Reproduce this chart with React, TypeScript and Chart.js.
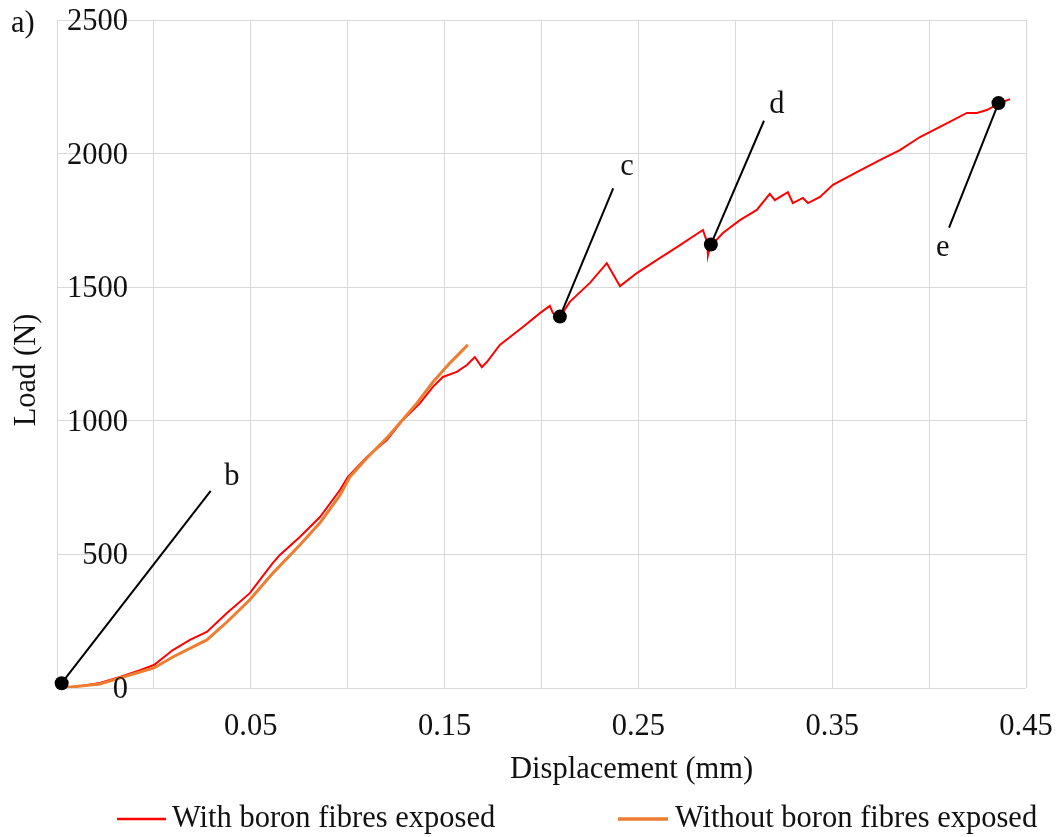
import React, { useEffect, useRef } from "react";
import { Chart, registerables } from "chart.js";

Chart.register(...registerables);

// ---- Data ----
const withBoronX = [
  -0.0475, -0.0382, -0.0279, -0.0175, -0.0072, 0.0, 0.0098, 0.0186, 0.0273, 0.0377,
  0.0495, 0.0614, 0.065, 0.0753, 0.0857, 0.096, 0.1001, 0.1099, 0.1202, 0.1285,
  0.1373, 0.144, 0.1491, 0.1563, 0.1615, 0.1656, 0.1692, 0.1718, 0.1785, 0.1904,
  0.1992, 0.2043, 0.2059, 0.2095, 0.2146, 0.225, 0.2337, 0.2405, 0.2492, 0.2596,
  0.2699, 0.2833, 0.2854, 0.2859, 0.2869, 0.2936, 0.3024, 0.3111, 0.3178, 0.3204,
  0.3271, 0.3297, 0.3349, 0.3375, 0.3437, 0.3504, 0.3627, 0.3746, 0.3849, 0.3953,
  0.4056, 0.4195, 0.4247, 0.4298, 0.4365, 0.4417,
];
const withBoronLoad = [
  0, 7, 19, 41, 67, 86, 142, 180, 210, 281,
  355, 468, 498, 565, 640, 741, 790, 865, 928, 1003,
  1066, 1127, 1164, 1183, 1209, 1239, 1201, 1220, 1284, 1351,
  1403, 1430, 1403, 1388, 1445, 1516, 1590, 1504, 1553, 1602,
  1650, 1714, 1669, 1620, 1650, 1703, 1751, 1789, 1849, 1826,
  1856, 1815, 1834, 1815, 1838, 1883, 1931, 1976, 2013, 2062,
  2100, 2152, 2152, 2163, 2189, 2204,
];

const withoutBoronX = [
  -0.0475, -0.0279, -0.0072, 0.0, 0.0098, 0.0273, 0.0377, 0.0495, 0.0614, 0.0753,
  0.0857, 0.096, 0.1011, 0.1099, 0.1202, 0.1269, 0.1357, 0.144, 0.1527, 0.162,
];
const withoutBoronLoad = [
  0, 15, 60, 75, 116, 180, 247, 330, 430, 535,
  618, 722, 790, 861, 936, 992, 1066, 1145, 1216, 1284,
];

const seriesLabels = ["With boron fibres exposed", "Without boron fibres exposed"];
const seriesColors = ["#FF0000", "#ED7D31"];

const xTickLabels = [0.05, 0.15, 0.25, 0.35, 0.45];
const yTickLabels = [0, 500, 1000, 1500, 2000, 2500];

const xTitle = "Displacement (mm)";
const yTitle = "Load (N)";
const panelLabel = "a)";

// annotation markers, leader line ends and letter positions
const markerNames = ["b", "c", "d", "e"];
const markerX = [-0.0476, 0.2095, 0.2874, 0.4358];
const markerLoad = [18, 1390, 1660, 2189];
const leaderEndX = [0.0293, 0.237, 0.3148, 0.4103];
const leaderEndLoad = [738, 1870, 2123, 1723];
const letterX = [0.0402, 0.2441, 0.3215, 0.4071];
const letterLoad = [760, 1920, 2152, 1617];

const FONT = '30.5px "Liberation Serif", "Times New Roman", serif';
const TEXT_COLOR = "#111111";

const textPlugin = {
  id: "textPlugin",
  afterDraw(chart: any) {
    const { ctx, chartArea } = chart;
    const xs = chart.scales.x;
    const ys = chart.scales.y;
    ctx.save();
    ctx.fillStyle = TEXT_COLOR;
    ctx.font = FONT;
    ctx.textBaseline = "alphabetic";

    // y tick labels (next to the x = 0 axis)
    ctx.textAlign = "right";
    const yLabelRight = xs.getPixelForValue(0) - 26;
    yTickLabels.forEach((v) => {
      ctx.fillText(String(v), yLabelRight, ys.getPixelForValue(v) + 10);
    });

    // x tick labels
    ctx.textAlign = "center";
    xTickLabels.forEach((v) => {
      ctx.fillText(v.toFixed(2), xs.getPixelForValue(v), chartArea.bottom + 47);
    });

    // x title
    ctx.fillText(xTitle, chartArea.left + (chartArea.right - chartArea.left) * 0.593, chartArea.bottom + 90);

    // y title
    ctx.save();
    ctx.translate(35, (chartArea.top + chartArea.bottom) / 2 + 16);
    ctx.rotate(-Math.PI / 2);
    ctx.textAlign = "center";
    ctx.fillText(yTitle, 0, 0);
    ctx.restore();

    // panel label
    ctx.textAlign = "left";
    ctx.fillText(panelLabel, 11, 32);

    // annotation letters
    ctx.textAlign = "center";
    markerNames.forEach((name, i) => {
      ctx.fillText(name, xs.getPixelForValue(letterX[i]), ys.getPixelForValue(letterLoad[i]));
    });

    // legend
    const legendY = chartArea.bottom + 131;
    const legendItems = [
      { x0: 117, x1: 166, tx: 172, width: 2.5 },
      { x0: 618, x1: 668, tx: 675, width: 3.5 },
    ];
    legendItems.forEach((it, i) => {
      const ds = chart.data.datasets[i];
      ctx.strokeStyle = ds.borderColor;
      ctx.lineWidth = it.width;
      ctx.beginPath();
      ctx.moveTo(it.x0, legendY);
      ctx.lineTo(it.x1, legendY);
      ctx.stroke();
      ctx.textAlign = "left";
      ctx.fillStyle = TEXT_COLOR;
      ctx.fillText(ds.label, it.tx, legendY + 8);
    });

    ctx.restore();
  },
};

export default function App() {
  const canvasRef = useRef<HTMLCanvasElement | null>(null);

  useEffect(() => {
    const canvas = canvasRef.current;
    if (!canvas) return;

    const redData = withBoronX.map((x, i) => ({ x, y: withBoronLoad[i] }));
    const orangeData = withoutBoronX.map((x, i) => ({ x, y: withoutBoronLoad[i] }));

    const leaderSets = markerNames.map((name, i) => ({
      label: "leader " + name,
      data: [
        { x: markerX[i], y: markerLoad[i] },
        { x: leaderEndX[i], y: leaderEndLoad[i] },
      ],
      showLine: true,
      borderColor: "#000000",
      borderWidth: 2,
      pointRadius: 0,
      clip: false,
      order: 1,
    }));

    const chart = new Chart(canvas, {
      type: "scatter",
      data: {
        datasets: [
          {
            label: seriesLabels[0],
            data: redData,
            showLine: true,
            borderColor: seriesColors[0],
            backgroundColor: seriesColors[0],
            borderWidth: 2,
            pointRadius: 0,
            tension: 0,
            order: 3,
          },
          {
            label: seriesLabels[1],
            data: orangeData,
            showLine: true,
            borderColor: seriesColors[1],
            backgroundColor: seriesColors[1],
            borderWidth: 3,
            pointRadius: 0,
            tension: 0,
            order: 2,
          },
          ...leaderSets,
          {
            label: "markers",
            data: markerX.map((x, i) => ({ x, y: markerLoad[i] })),
            showLine: false,
            pointRadius: 7,
            pointBackgroundColor: "#000000",
            pointBorderColor: "#000000",
            pointBorderWidth: 0,
            clip: false,
            order: 0,
          },
        ],
      } as any,
      options: {
        responsive: false,
        animation: false,
        devicePixelRatio: 1,
        layout: { padding: { left: 57, right: 32, top: 20, bottom: 149 } },
        plugins: {
          legend: { display: false },
          tooltip: { enabled: false },
          title: { display: false },
        },
        scales: {
          x: {
            type: "linear",
            min: -0.05,
            max: 0.45,
            ticks: { display: false, stepSize: 0.05 },
            grid: { color: "#d9d9d9", lineWidth: 1, drawTicks: false },
            border: { display: false },
          },
          y: {
            type: "linear",
            min: 0,
            max: 2500,
            ticks: { display: false, stepSize: 500 },
            grid: { color: "#d9d9d9", lineWidth: 1, drawTicks: false },
            border: { display: false },
          },
        },
      } as any,
      plugins: [textPlugin],
    });

    return () => {
      chart.destroy();
    };
  }, []);

  return (
    <div style={{ position: "absolute", left: 0, top: 0, width: 1058, height: 837, background: "#ffffff" }}>
      <canvas ref={canvasRef} width={1058} height={837} style={{ display: "block" }} />
    </div>
  );
}
